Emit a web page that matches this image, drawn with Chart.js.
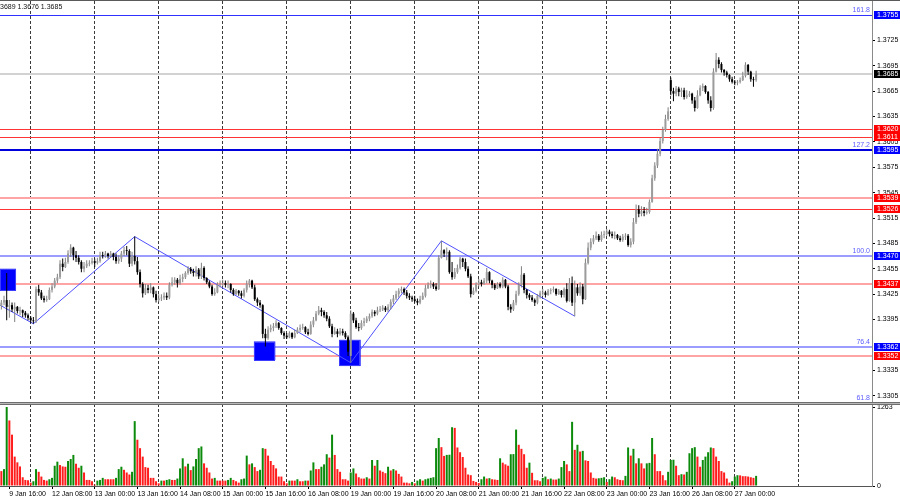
<!DOCTYPE html>
<html><head><meta charset="utf-8">
<script src="https://cdn.jsdelivr.net/npm/chart.js@4.4.1/dist/chart.umd.min.js"></script>
<style>
html,body{margin:0;padding:0;background:#fff;}
#wrap{position:relative;width:900px;height:500px;overflow:hidden;background:#fff;}
canvas{position:absolute;left:0;}
#pc{top:0;}
#vc{top:402px;}
</style></head><body>
<div id="wrap">
<canvas id="pc" width="900" height="402"></canvas>
<canvas id="vc" width="900" height="98"></canvas>
</div>
<script>
// ---------- DATA (H1 bars, index 0 = 9 Jan 13:00) ----------
const opens = [
1.3411,1.3415,1.3418,1.3410,1.3412,1.3407,1.3410,1.3405,1.3406,1.3403,1.3400,
1.3397,1.3394,1.3393,1.3431,1.3427,1.3420,1.3418,1.3419,1.3430,1.3434,1.3441,1.3445,1.3461,1.3457,1.3463,1.3473,1.3480,1.3471,1.3468,1.3463,1.3455,1.3458,1.3461,1.3462,
1.3464,1.3462,1.3464,1.3471,1.3470,1.3473,1.3470,1.3473,1.3469,1.3464,1.3467,1.3473,1.3477,1.3476,1.3461,1.3470,1.3464,1.3451,1.3437,1.3426,1.3432,1.3430,1.3433,1.3425,
1.3418,1.3420,1.3421,1.3423,1.3421,1.3436,1.3439,1.3442,1.3438,1.3443,1.3445,1.3450,1.3455,1.3452,1.3450,1.3454,1.3446,1.3456,1.3444,1.3439,1.3434,1.3425,1.3427,1.3436,
1.3437,1.3438,1.3436,1.3437,1.3430,1.3425,1.3429,1.3426,1.3423,1.3430,1.3437,1.3441,1.3433,1.3419,1.3415,1.3412,1.3378,1.3373,1.3383,1.3385,1.3387,1.3391,1.3385,1.3379,
1.3376,1.3374,1.3379,1.3374,1.3379,1.3383,1.3385,1.3386,1.3380,1.3378,1.3389,1.3394,1.3402,1.3406,1.3404,1.3400,1.3396,1.3387,1.3378,1.3381,1.3378,1.3381,1.3379,1.3374,
1.3352,1.3402,1.3394,1.3386,1.3385,1.3391,1.3393,1.3396,1.3399,1.3404,1.3402,1.3406,1.3407,1.3409,1.3406,1.3410,1.3416,1.3420,1.3425,1.3429,1.3431,1.3427,1.3423,1.3421,
1.3419,1.3417,1.3415,1.3419,1.3423,1.3432,1.3436,1.3437,1.3434,1.3431,1.3468,1.3477,1.3473,1.3475,1.3451,1.3445,1.3451,1.3456,1.3467,1.3463,1.3455,1.3446,1.3425,1.3429,
1.3437,1.3439,1.3437,1.3441,1.3451,1.3441,1.3436,1.3432,1.3437,1.3434,1.3442,1.3434,1.3410,1.3407,1.3415,1.3425,1.3436,1.3448,1.3430,1.3424,1.3421,1.3418,1.3415,1.3423,
1.3426,1.3427,1.3424,1.3429,1.3430,1.3431,1.3425,1.3429,1.3424,1.3431,1.3417,1.3438,1.3415,1.3433,1.3426,1.3434,1.3419,1.3462,1.3480,1.3487,1.3491,1.3494,1.3489,1.3495,
1.3496,1.3499,1.3496,1.3494,1.3495,1.3491,1.3489,1.3493,1.3494,1.3483,1.3487,1.3510,1.3525,1.3520,1.3523,1.3521,1.3522,1.3534,1.3562,1.3577,1.3591,1.3606,1.3619,1.3632,
1.3678,1.3665,1.3662,1.3668,1.3664,1.3666,1.3658,1.3660,1.3662,1.3654,1.3645,1.3660,1.3669,1.3671,1.3664,1.3654,1.3645,1.3688,1.3702,1.3697,1.3690,1.3687,1.3684,1.3679,
1.3676,1.3675,1.3676,1.3678,1.3683,1.3696,1.3688,1.3679,1.3678
];
const highs = [
1.3418,1.3423,1.3450,1.3418,1.3415,1.3415,1.3411,1.3410,1.3407,1.3405,1.3402,
1.3399,1.3398,1.3434,1.3436,1.3430,1.3423,1.3423,1.3433,1.3438,1.3444,1.3449,1.3465,1.3467,1.3468,1.3477,1.3484,1.3481,1.3476,1.3471,1.3465,1.3463,1.3465,1.3465,1.3468,
1.3467,1.3468,1.3475,1.3475,1.3476,1.3474,1.3476,1.3474,1.3473,1.3471,1.3476,1.3481,1.3482,1.3478,1.3475,1.3493,1.3469,1.3454,1.3439,1.3437,1.3436,1.3438,1.3434,1.3429,
1.3425,1.3425,1.3427,1.3427,1.3439,1.3445,1.3445,1.3444,1.3448,1.3449,1.3452,1.3458,1.3457,1.3455,1.3458,1.3456,1.3462,1.3458,1.3445,1.3441,1.3436,1.3432,1.3439,1.3441,
1.3442,1.3441,1.3441,1.3438,1.3432,1.3431,1.3430,1.3429,1.3432,1.3441,1.3443,1.3442,1.3436,1.3421,1.3418,1.3413,1.3384,1.3387,1.3389,1.3391,1.3394,1.3392,1.3386,1.3381,
1.3379,1.3381,1.3380,1.3383,1.3386,1.3389,1.3390,1.3387,1.3384,1.3393,1.3398,1.3405,1.3411,1.3409,1.3406,1.3404,1.3399,1.3390,1.3386,1.3384,1.3385,1.3384,1.3381,1.3376,
1.3406,1.3404,1.3397,1.3391,1.3394,1.3397,1.3399,1.3402,1.3407,1.3406,1.3410,1.3411,1.3412,1.3411,1.3413,1.3419,1.3424,1.3429,1.3432,1.3434,1.3433,1.3430,1.3426,1.3423,
1.3423,1.3420,1.3423,1.3427,1.3436,1.3439,1.3441,1.3439,1.3438,1.3471,1.3488,1.3478,1.3480,1.3477,1.3463,1.3456,1.3460,1.3469,1.3468,1.3467,1.3458,1.3449,1.3433,1.3439,
1.3443,1.3442,1.3444,1.3456,1.3452,1.3442,1.3438,1.3439,1.3439,1.3445,1.3443,1.3436,1.3413,1.3418,1.3429,1.3439,1.3458,1.3450,1.3431,1.3426,1.3424,1.3420,1.3425,1.3429,
1.3431,1.3429,1.3431,1.3432,1.3434,1.3432,1.3431,1.3430,1.3433,1.3438,1.3444,1.3446,1.3441,1.3437,1.3439,1.3437,1.3467,1.3486,1.3491,1.3495,1.3499,1.3496,1.3499,1.3500,
1.3502,1.3501,1.3499,1.3499,1.3496,1.3494,1.3496,1.3497,1.3496,1.3491,1.3515,1.3531,1.3530,1.3529,1.3528,1.3527,1.3537,1.3566,1.3581,1.3597,1.3610,1.3623,1.3637,1.3646,
1.3681,1.3669,1.3671,1.3670,1.3669,1.3669,1.3666,1.3665,1.3663,1.3658,1.3666,1.3672,1.3674,1.3672,1.3665,1.3659,1.3692,1.3710,1.3705,1.3699,1.3691,1.3689,1.3685,1.3682,
1.3678,1.3678,1.3681,1.3688,1.3699,1.3697,1.3689,1.3682,1.3689
];
const lows = [
1.3407,1.3412,1.3394,1.3397,1.3404,1.3392,1.3402,1.3400,1.3398,1.3397,1.3394,
1.3391,1.3390,1.3391,1.3423,1.3418,1.3415,1.3416,1.3418,1.3427,1.3432,1.3438,1.3443,1.3452,1.3456,1.3461,1.3469,1.3465,1.3463,1.3460,1.3451,1.3451,1.3456,1.3458,1.3460,
1.3457,1.3460,1.3462,1.3467,1.3468,1.3467,1.3468,1.3465,1.3461,1.3461,1.3463,1.3470,1.3471,1.3457,1.3458,1.3460,1.3448,1.3433,1.3421,1.3424,1.3426,1.3426,1.3421,1.3415,
1.3416,1.3417,1.3418,1.3418,1.3419,1.3434,1.3436,1.3433,1.3436,1.3439,1.3443,1.3448,1.3449,1.3446,1.3446,1.3443,1.3443,1.3441,1.3437,1.3432,1.3423,1.3423,1.3426,1.3433,
1.3434,1.3433,1.3432,1.3427,1.3423,1.3424,1.3423,1.3420,1.3421,1.3427,1.3433,1.3431,1.3417,1.3411,1.3409,1.3373,1.3363,1.3371,1.3380,1.3381,1.3385,1.3383,1.3377,1.3372,
1.3372,1.3373,1.3372,1.3373,1.3378,1.3380,1.3383,1.3378,1.3376,1.3377,1.3386,1.3393,1.3400,1.3399,1.3397,1.3393,1.3385,1.3374,1.3377,1.3374,1.3376,1.3376,1.3372,1.3352,
1.3344,1.3391,1.3384,1.3381,1.3383,1.3387,1.3391,1.3393,1.3397,1.3399,1.3400,1.3404,1.3405,1.3404,1.3404,1.3407,1.3413,1.3418,1.3421,1.3426,1.3424,1.3420,1.3418,1.3416,
1.3415,1.3412,1.3413,1.3418,1.3421,1.3431,1.3432,1.3431,1.3429,1.3430,1.3467,1.3469,1.3465,1.3449,1.3442,1.3443,1.3449,1.3454,1.3457,1.3452,1.3444,1.3421,1.3424,1.3427,
1.3434,1.3434,1.3436,1.3438,1.3438,1.3432,1.3430,1.3431,1.3432,1.3432,1.3432,1.3406,1.3403,1.3405,1.3412,1.3423,1.3433,1.3426,1.3420,1.3418,1.3416,1.3411,1.3413,1.3420,
1.3423,1.3421,1.3423,1.3425,1.3427,1.3423,1.3424,1.3421,1.3421,1.3415,1.3416,1.3411,1.3399,1.3423,1.3423,1.3413,1.3418,1.3460,1.3477,1.3484,1.3489,1.3487,1.3487,1.3491,
1.3494,1.3493,1.3491,1.3490,1.3489,1.3487,1.3487,1.3489,1.3481,1.3480,1.3484,1.3508,1.3516,1.3517,1.3517,1.3519,1.3520,1.3533,1.3559,1.3574,1.3588,1.3603,1.3617,1.3630,
1.3660,1.3653,1.3659,1.3659,1.3658,1.3655,1.3656,1.3658,1.3650,1.3641,1.3644,1.3659,1.3665,1.3662,1.3650,1.3641,1.3643,1.3687,1.3692,1.3687,1.3683,1.3681,1.3676,1.3674,
1.3672,1.3672,1.3674,1.3677,1.3681,1.3684,1.3676,1.3670,1.3676
];
const closes = [
1.3415,1.3418,1.3410,1.3412,1.3407,1.3410,1.3405,1.3406,1.3403,1.3400,1.3397,
1.3394,1.3393,1.3431,1.3427,1.3420,1.3418,1.3419,1.3430,1.3434,1.3441,1.3445,1.3461,1.3457,1.3463,1.3473,1.3480,1.3471,1.3468,1.3463,1.3455,1.3458,1.3461,1.3462,1.3464,
1.3462,1.3464,1.3471,1.3470,1.3473,1.3470,1.3473,1.3469,1.3464,1.3467,1.3473,1.3477,1.3476,1.3461,1.3470,1.3464,1.3451,1.3437,1.3426,1.3432,1.3430,1.3433,1.3425,1.3418,
1.3420,1.3421,1.3423,1.3421,1.3436,1.3439,1.3442,1.3438,1.3443,1.3445,1.3450,1.3455,1.3452,1.3450,1.3454,1.3446,1.3456,1.3444,1.3439,1.3434,1.3425,1.3427,1.3436,1.3437,
1.3438,1.3436,1.3437,1.3430,1.3425,1.3429,1.3426,1.3423,1.3430,1.3437,1.3441,1.3433,1.3419,1.3415,1.3412,1.3378,1.3373,1.3383,1.3385,1.3387,1.3391,1.3385,1.3379,1.3376,
1.3374,1.3379,1.3374,1.3379,1.3383,1.3385,1.3386,1.3380,1.3378,1.3389,1.3394,1.3402,1.3406,1.3404,1.3400,1.3396,1.3387,1.3378,1.3381,1.3378,1.3381,1.3379,1.3374,1.3357,
1.3402,1.3394,1.3386,1.3385,1.3391,1.3393,1.3396,1.3399,1.3404,1.3402,1.3406,1.3407,1.3409,1.3406,1.3410,1.3416,1.3420,1.3425,1.3429,1.3431,1.3427,1.3423,1.3421,1.3419,
1.3417,1.3415,1.3419,1.3423,1.3432,1.3436,1.3437,1.3434,1.3431,1.3468,1.3477,1.3473,1.3475,1.3451,1.3445,1.3451,1.3456,1.3467,1.3463,1.3455,1.3446,1.3425,1.3429,1.3437,
1.3439,1.3437,1.3441,1.3451,1.3441,1.3436,1.3432,1.3437,1.3434,1.3442,1.3434,1.3410,1.3407,1.3415,1.3425,1.3436,1.3448,1.3430,1.3424,1.3421,1.3418,1.3415,1.3423,1.3426,
1.3427,1.3424,1.3429,1.3430,1.3431,1.3425,1.3429,1.3424,1.3431,1.3417,1.3438,1.3415,1.3433,1.3426,1.3434,1.3419,1.3462,1.3480,1.3487,1.3491,1.3494,1.3489,1.3495,1.3496,
1.3499,1.3496,1.3494,1.3495,1.3491,1.3489,1.3493,1.3494,1.3483,1.3487,1.3510,1.3525,1.3520,1.3523,1.3521,1.3522,1.3534,1.3562,1.3577,1.3591,1.3606,1.3619,1.3632,1.3641,
1.3665,1.3662,1.3668,1.3664,1.3666,1.3658,1.3660,1.3662,1.3654,1.3645,1.3660,1.3669,1.3671,1.3664,1.3654,1.3645,1.3688,1.3702,1.3697,1.3690,1.3687,1.3684,1.3679,1.3676,
1.3675,1.3676,1.3678,1.3683,1.3696,1.3688,1.3679,1.3678,1.3685
];
const volumes = [
238,270,1263,1048,821,470,378,313,140,97,92,
54,76,270,227,151,97,86,108,130,324,389,335,313,308,400,432,497,356,292,324,216,97,97,76,
22,86,97,130,108,108,108,108,130,270,308,259,216,184,227,1037,740,605,470,302,292,130,130,76,
43,86,86,97,108,97,97,119,281,443,313,356,254,313,432,605,632,362,292,216,119,130,86,86,
86,86,97,130,97,76,54,108,119,486,346,362,302,238,259,605,594,486,400,335,281,151,151,76,
43,86,86,86,108,76,76,86,86,248,378,270,270,308,346,508,454,821,497,270,227,108,108,86,
216,281,200,140,119,119,140,119,416,324,416,248,227,205,308,248,270,248,194,151,54,54,43,65,
43,86,108,86,108,119,130,140,605,767,621,481,497,500,940,929,616,540,464,292,184,173,81,65,
49,108,151,119,125,108,103,97,443,373,346,324,508,510,902,659,594,508,292,373,211,92,92,76,
130,151,108,119,103,103,119,302,400,346,238,1026,578,659,551,562,410,400,216,130,119,124,130,140,
65,108,151,140,108,97,92,162,616,486,594,362,443,362,281,362,370,767,508,238,238,173,92,227,
416,420,324,173,189,184,227,524,605,621,470,308,416,470,540,616,605,470,400,238,216,119,54,76,
151,173,170,157,157,151,140,130,162
];
// day separators (bar index of each day's 00:00) and time-axis labels
const daySeparators = [11,35,59,83,107,131,155,179,203,227,251,275,299];
const timeLabelIdx = [3,19,35,51,67,83,99,115,131,147,163,179,195,211,227,243,259,275];
const timeLabels = ['9 Jan 16:00','12 Jan 08:00','13 Jan 00:00','13 Jan 16:00','14 Jan 08:00','15 Jan 00:00','15 Jan 16:00','16 Jan 08:00','19 Jan 00:00','19 Jan 16:00','20 Jan 08:00','21 Jan 00:00','21 Jan 16:00','22 Jan 08:00','23 Jan 00:00','23 Jan 16:00','26 Jan 08:00','27 Jan 00:00'];
const priceTicks = [1.3305,1.3335,1.3395,1.3425,1.3455,1.3485,1.3515,1.3545,1.3575,1.3605,1.3635,1.3665,1.3695,1.3725];
const volumeTicks = [0,1263];
// horizontal levels
const levelPrices = [1.3755,1.3685,1.3620,1.3611,1.3595,1.3539,1.3526,1.3470,1.3437,1.3362,1.3352];
const levelKinds  = ['fib','price','res','res','fib2','zone','res','fibL','zone','fibL','zone'];
// fibonacci labels
const fibPrices = [1.3755,1.3595,1.3470,1.3362,1.3294];
const fibNames  = ['161.8','127.2','100.0','76.4','61.8'];
// zigzag vertices (bar index, price)
const zigIdx   = [-0.5,12,50,131,165,215];
const zigPrice = [1.3412,1.3390,1.3493,1.3344,1.3488,1.3399];
// highlighted boxes
const boxFrom = [-0.5,94.7,126.7];
const boxTo   = [5.5,102.7,134.7];
const boxHigh = [1.3455,1.3369,1.3371];
const boxLow  = [1.3429,1.3347,1.3340];
const headerText = '3689 1.3676 1.3685';

// ---------- STYLES ----------
const FONT = "'Liberation Sans Narrow','Liberation Sans',Arial,sans-serif";
const kindStyle = {
  fib:  {c:'#3030ff', w:1, badge:'#0000ff'},
  fib2: {c:'#0000dd', w:2, badge:'#0000ff'},
  fibL: {c:'#9c9cff', w:2, badge:'#0000ff'},
  price:{c:'#d2d2d2', w:2, badge:'#000000'},
  res:  {c:'#ff3535', w:1, badge:'#ff0000'},
  zone: {c:'#ffa4a4', w:2, badge:'#ff0000'}
};
const BULL_BODY='#9c9c9c', BULL_WICK='#808080', BEAR='#000000';
const xMin = -0.51, xMax = 326.45;
const noPad = s => { s.paddingTop = 0; s.paddingBottom = 0; s.paddingLeft = 0; s.paddingRight = 0; };

const levelsPlugin = {
  id:'levels',
  beforeDatasetsDraw(chart){
    const {ctx, chartArea:a, scales:{x,y}} = chart;
    ctx.save();
    ctx.setLineDash([]);
    ctx.beginPath(); ctx.rect(a.left,a.top,a.right-a.left,a.bottom-a.top); ctx.clip();
    levelPrices.forEach((p,k)=>{
      const st = kindStyle[levelKinds[k]];
      const py = Math.round(y.getPixelForValue(p));
      ctx.fillStyle = st.c;
      if (st.w === 1) ctx.fillRect(a.left, py, a.right - a.left, 1);
      else ctx.fillRect(a.left, py - 1, a.right - a.left, 2);
    });
    boxFrom.forEach((f,k)=>{
      const x1 = x.getPixelForValue(f), x2 = x.getPixelForValue(boxTo[k]);
      const y1 = y.getPixelForValue(boxHigh[k]), y2 = y.getPixelForValue(boxLow[k]);
      ctx.fillStyle = '#0000ff';
      ctx.fillRect(x1,y1,x2-x1,y2-y1);
      ctx.strokeStyle = '#3c3cff'; ctx.lineWidth = 1;
      ctx.strokeRect(Math.round(x1)+0.5,Math.round(y1)+0.5,Math.round(x2-x1)-1,Math.round(y2-y1)-1);
    });
    ctx.restore();
  },
  afterDraw(chart){
    const {ctx, chartArea:a, scales:{y}} = chart;
    ctx.save();
    ctx.fillStyle = '#5a5a5a'; ctx.fillRect(0,0,900,1);
    ctx.font = '7px '+FONT; ctx.fillStyle = '#5c5cff'; ctx.textAlign='right'; ctx.textBaseline='alphabetic';
    fibPrices.forEach((p,k)=>{
      let py = y.getPixelForValue(p) - 3;
      if (py > a.bottom - 1) py = a.bottom - 1;
      ctx.fillText(fibNames[k], a.right - 2, py);
    });
    ctx.textAlign='left'; ctx.textBaseline='middle';
    levelPrices.forEach((p,k)=>{
      const st = kindStyle[levelKinds[k]];
      const py = Math.round(y.getPixelForValue(p));
      ctx.fillStyle = st.badge;
      ctx.fillRect(a.right+2, py-4, 26, 8);
      ctx.fillStyle = '#ffffff';
      ctx.fillText(p.toFixed(4), a.right+5, py+0.5);
    });
    ctx.fillStyle = '#111'; ctx.font = '7px '+FONT; ctx.textBaseline='alphabetic';
    ctx.fillText(headerText, 0, 9);
    ctx.restore();
  }
};

new Chart(document.getElementById('pc'), {
  type:'bar',
  data:{datasets:[
    {type:'line', data: zigIdx.map((v,k)=>({x:v, y:zigPrice[k]})), borderColor:'#5050ff', borderWidth:1,
     pointRadius:0, tension:0, fill:false, order:10},
    {type:'bar', data: lows.map((l,i)=>({x:i, y:[l, highs[i]]})), barThickness:1, grouped:false, inflateAmount:0,
     backgroundColor: c => closes[c.dataIndex] >= opens[c.dataIndex] ? BULL_WICK : BEAR, order:2},
    {type:'bar', data: opens.map((o,i)=>({x:i, y:[o, closes[i]]})), barThickness:2, grouped:false, inflateAmount:0,
     backgroundColor: c => closes[c.dataIndex] >= opens[c.dataIndex] ? BULL_BODY : BEAR, order:1}
  ]},
  options:{
    responsive:false, animation:false, events:[],
    layout:{padding:{top:1,bottom:1,left:0,right:0}},
    plugins:{legend:{display:false}, tooltip:{enabled:false}},
    scales:{
      x:{type:'linear', min:xMin, max:xMax, offset:false,
         afterBuildTicks: s => { s.ticks = daySeparators.map(v=>({value:v})); },
         afterFit: s => { s.height = 0; noPad(s); },
         ticks:{display:false},
         grid:{display:true, drawTicks:false, color:'#3a3a3a', lineWidth:1, offset:false},
         border:{display:false, dash:[3,2]}},
      y:{position:'right', min:1.32987, max:1.37715,
         afterBuildTicks: s => { s.ticks = priceTicks.map(v=>({value:v})); },
         afterFit: s => { s.width = 28; noPad(s); },
         ticks:{font:{size:7, family:FONT}, color:'#000', padding:2, callback: v => Number(v).toFixed(4)},
         grid:{drawOnChartArea:false, drawTicks:true, tickLength:3, color:'#000'},
         border:{display:true, color:'#8a8a8a', width:1}}
    }
  },
  plugins:[levelsPlugin]
});

// ---------- VOLUME PANEL ----------
const volColors = volumes.map((v,i)=> i>0 && v > volumes[i-1] ? '#0b8a0b' : '#ff1c1c');
const allXTicks = Array.from(new Set([...daySeparators, ...timeLabelIdx])).sort((a,b)=>a-b);
const volPanelPlugin = {
  id:'volpanel',
  afterDraw(chart){
    const {ctx} = chart;
    ctx.save();
    ctx.fillStyle = '#6e6e6e'; ctx.fillRect(0,0,900,1);
    ctx.fillStyle = '#b8b8b8'; ctx.fillRect(0,1,900,1);
    ctx.fillStyle = '#6e6e6e'; ctx.fillRect(0,2,900,1);
    ctx.restore();
  }
};
new Chart(document.getElementById('vc'), {
  type:'bar',
  data:{datasets:[
    {data: volumes.map((v,i)=>({x:i, y:v})), backgroundColor: volColors, barThickness:2, grouped:false, inflateAmount:0}
  ]},
  options:{
    responsive:false, animation:false, events:[],
    layout:{padding:{top:2,bottom:0,left:0,right:0}},
    plugins:{legend:{display:false}, tooltip:{enabled:false}},
    scales:{
      x:{type:'linear', min:xMin, max:xMax, offset:false,
         afterBuildTicks: s => { s.ticks = allXTicks.map(v=>({value:v})); },
         afterFit: s => { s.height = 14; noPad(s); },
         ticks:{autoSkip:false, maxRotation:0, minRotation:0, align:'start', padding:1,
                font:{size:7, family:FONT}, color:'#000',
                callback: v => { const k = timeLabelIdx.indexOf(v); return k>=0 ? timeLabels[k] : ''; }},
         grid:{display:true, drawTicks:true, tickLength:3, offset:false, lineWidth:1,
               color: c => (c.tick && daySeparators.includes(c.tick.value)) ? '#3a3a3a' : 'rgba(0,0,0,0)',
               tickColor: c => (c.tick && timeLabelIdx.includes(c.tick.value)) ? '#000' : 'rgba(0,0,0,0)',
               tickBorderDash:[]},
         border:{display:true, color:'#555', width:1, dash:[3,2]}},
      y:{position:'right', min:0, max:1311,
         afterBuildTicks: s => { s.ticks = volumeTicks.map(v=>({value:v})); },
         afterFit: s => { s.width = 28; noPad(s); },
         ticks:{font:{size:7, family:FONT}, color:'#000', padding:2, callback: v => String(v)},
         grid:{drawOnChartArea:false, drawTicks:true, tickLength:3, color:'#000'},
         border:{display:true, color:'#8a8a8a', width:1}}
    }
  },
  plugins:[volPanelPlugin]
});
</script>
</body></html>
